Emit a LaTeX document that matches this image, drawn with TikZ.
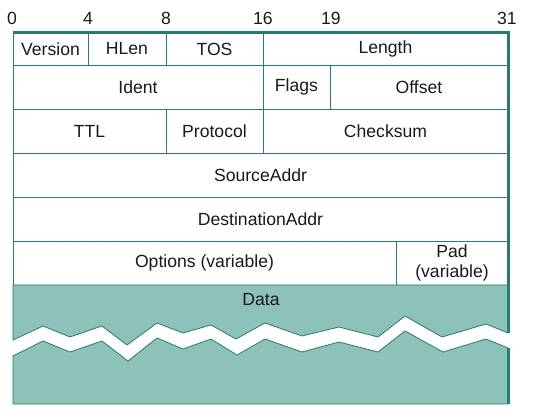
\documentclass[tikz,border=0pt]{standalone}
\usepackage{fontspec}
\setmainfont{Liberation Sans}
\definecolor{rule}{RGB}{38,124,110}
\definecolor{datafill}{RGB}{141,194,185}
\definecolor{ink}{RGB}{25,25,25}
% one header field: name, x1, y1, x2, y2, text
\newcommand\fld[6]{%
  \node[field, minimum width={#4-#2}, minimum height={#5-#3}]
    (#1) at ({(#2+#4)/2},{(#3+#5)/2}) {#6};}
\begin{document}
\begin{tikzpicture}[x=1pt,y=-1pt,
  labelfont/.style={font=\fontsize{17.6}{20}\selectfont, text=ink},
  field/.style={labelfont, draw=rule, line width=0.8pt, fill=white,
    inner sep=0pt, align=center},
  bitlabel/.style={labelfont, inner sep=0pt},
  frame/.style={draw=rule, line width=3pt, line join=miter},
  band/.style={fill=datafill, draw=rule, line width=0.8pt, line join=miter}]
\useasboundingbox (0,0) rectangle (550,417);

% bit positions
\node[bitlabel] (b0)  at (12,18)  {0};
\node[bitlabel] (b4)  at (88,18)  {4};
\node[bitlabel] (b8)  at (166,18) {8};
\node[bitlabel] (b16) at (263,18) {16};
\node[bitlabel] (b19) at (331,18) {19};
\node[bitlabel] (b31) at (507,18) {31};

% header rows
\fld{version}{13}{33}{88}{65}{Version}
\fld{hlen}{88}{33}{166}{65}{HLen}
\fld{tos}{166}{33}{263}{65}{TOS}
\fld{length}{263}{33}{508}{65}{Length}

\fld{ident}{13}{65}{263}{109}{Ident}
\fld{flags}{263}{65}{330}{109}{Flags}
\fld{offset}{330}{65}{508}{109}{Offset}

\fld{ttl}{13}{109}{166}{153}{TTL}
\fld{protocol}{166}{109}{263}{153}{Protocol}
\fld{checksum}{263}{109}{508}{153}{Checksum}

\fld{src}{13}{153}{508}{197}{SourceAddr}
\fld{dst}{13}{197}{508}{241}{DestinationAddr}

\fld{options}{13}{241}{396}{285}{Options (variable)}
\fld{pad}{396}{241}{508}{285}{Pad\\(variable)}

% data area, broken by a zigzag gap
\path[band] (13,285) -- (508,285) -- (508,333) -- (486,324) -- (442,337)
  -- (405,316) -- (378,337) -- (339,327) -- (302,336) -- (265,323)
  -- (236,339) -- (211,325) -- (183,333) -- (157,323) -- (127,345)
  -- (102,326) -- (70,337) -- (43,326) -- (13,340) -- cycle;
\path[band] (13,356) -- (43,341) -- (70,352) -- (102,341) -- (128,361)
  -- (157,338) -- (183,349) -- (211,339) -- (237,355) -- (265,339)
  -- (302,352) -- (339,342) -- (378,352) -- (405,331) -- (443,352)
  -- (486,339) -- (508,348) -- (508,404) -- (13,404) -- cycle;
\node[labelfont, inner sep=0pt] (data) at (261,300) {Data};

% heavy outer edges
\draw[frame] (13,33) -- (508,33) -- (508,333);
\draw[frame] (508,348) -- (508,404);
\end{tikzpicture}
\end{document}
